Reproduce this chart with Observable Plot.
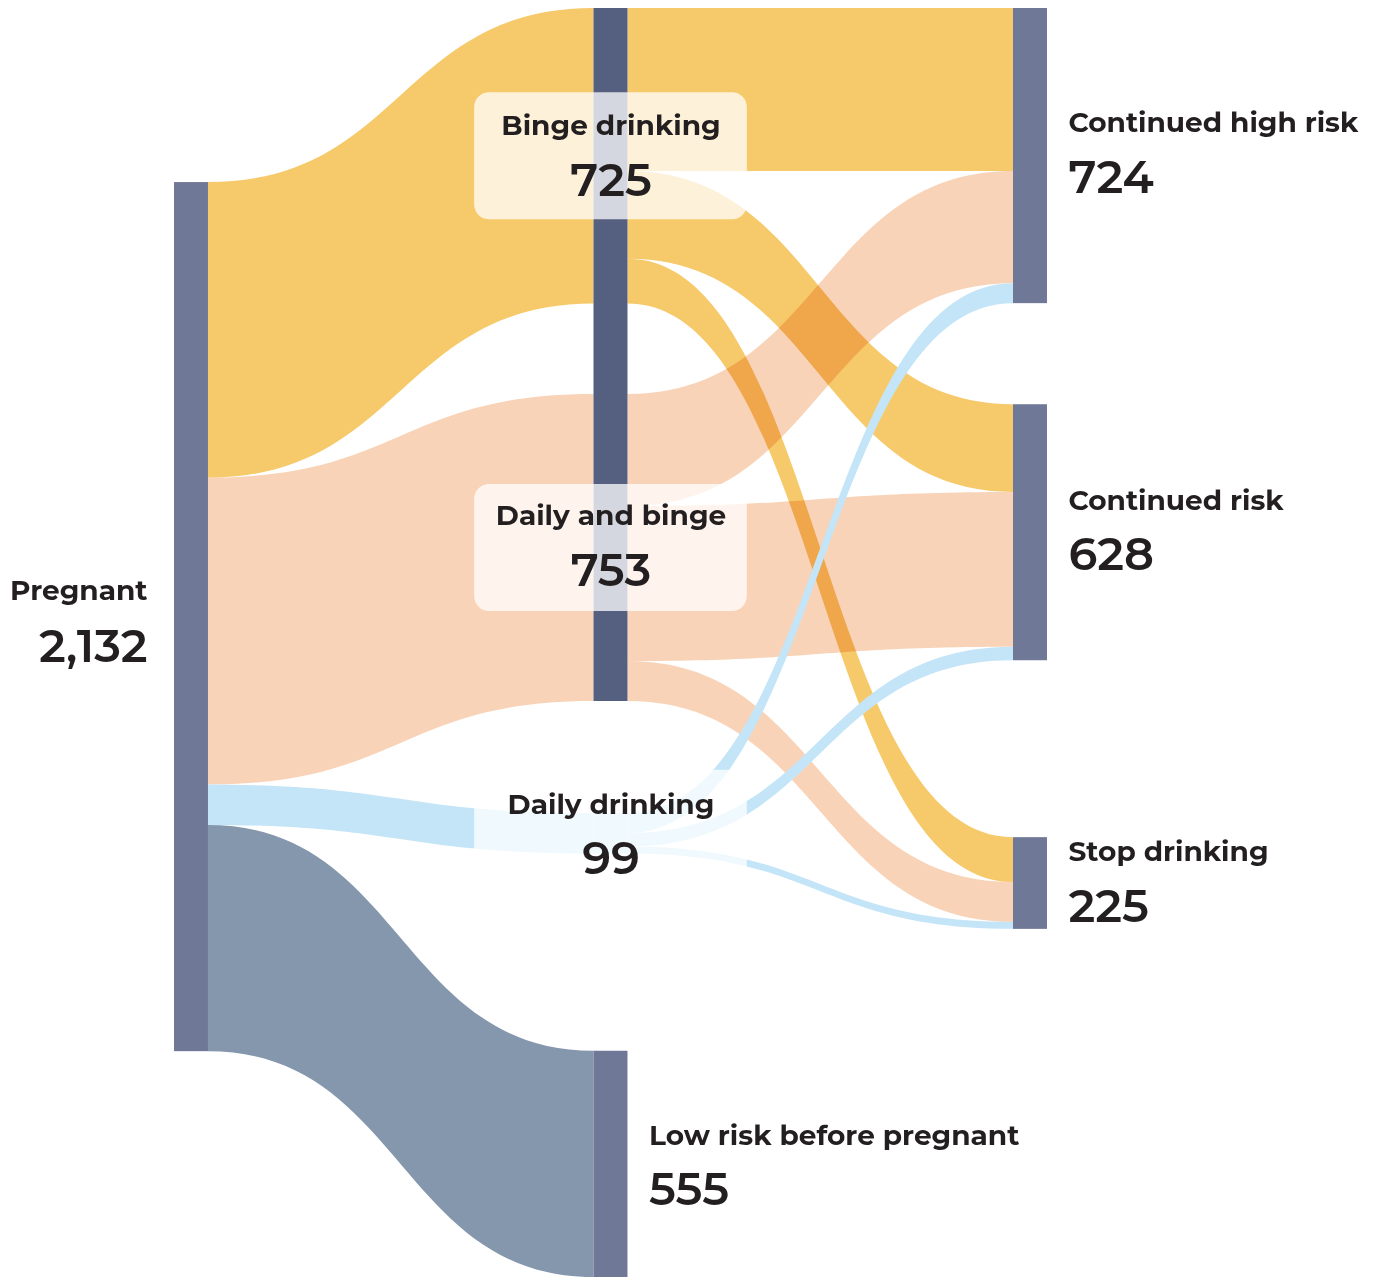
<!DOCTYPE html>
<html>
<head>
<meta charset="utf-8">
<script src="https://cdn.jsdelivr.net/npm/d3@7"></script>
<script src="https://cdn.jsdelivr.net/npm/@observablehq/plot@0.6"></script>
<style>
  html, body { margin: 0; padding: 0; background: #ffffff; }
  #chart svg { display: block; }
</style>
</head>
<body>
<div id="chart"></div>
<script>
// ---------------- DATA ----------------
const nodeNames = [
  "Pregnant",
  "Binge drinking",
  "Daily and binge",
  "Daily drinking",
  "Low risk before pregnant",
  "Continued high risk",
  "Continued risk",
  "Stop drinking"
];
const nodeColumns = [0, 1, 1, 1, 1, 2, 2, 2];

const linkSources = ["Pregnant", "Pregnant", "Pregnant", "Pregnant",
  "Binge drinking", "Binge drinking", "Binge drinking",
  "Daily and binge", "Daily and binge", "Daily and binge",
  "Daily drinking", "Daily drinking", "Daily drinking"];
const linkTargets = ["Binge drinking", "Daily and binge", "Daily drinking", "Low risk before pregnant",
  "Continued high risk", "Continued risk", "Stop drinking",
  "Continued high risk", "Continued risk", "Stop drinking",
  "Continued high risk", "Continued risk", "Stop drinking"];
const linkValues = [725, 753, 99, 555,
  400, 215, 110,
  275, 380, 98,
  49, 33, 17];

const categoryNames = ["Binge drinking", "Daily and binge", "Daily drinking", "Low risk before pregnant"];
const categoryColors = ["#f6ca6a", "#f9d3b7", "#c3e5f7", "#8597ad"];

// ---------------- LAYOUT ----------------
// gap (in value units) placed before each node in its column
const gapBefore = [427, 0, 222, 275, 484, 0, 248, 434];
// which side the label goes: "left", "center", "right"
const labelSide = ["left", "center", "center", "center", "right", "right", "right", "right"];
// vertical offsets (px) of the name and the value from the node centre
const nameDy  = [-26, -30, -32, -29, -28, -33, -32, -31];
const valueDy = [ 30,  25,  23,  25,  26,  22,  23,  24];
// node bars: groups of nodes drawn as one bar, with colour
const barGroups = [
  {nodes: ["Pregnant"], color: "#6f7896"},
  {nodes: ["Binge drinking", "Daily and binge"], color: "#555f80"},
  {nodes: ["Daily drinking"], color: "#c3e5f7"},
  {nodes: ["Low risk before pregnant"], color: "#6f7896"},
  {nodes: ["Continued high risk"], color: "#6f7896"},
  {nodes: ["Continued risk"], color: "#6f7896"},
  {nodes: ["Stop drinking"], color: "#6f7896"}
];
const nodeW = 0.081;       // in column units
const boxHalfW = 0.325;    // label box half width, column units
const boxHalfH = 156;      // label box half height, value units

const W = 1376, H = 1277;

// build nodes
const nodes = nodeNames.map((name, i) => ({name, col: nodeColumns[i], gap: gapBefore[i], side: labelSide[i],
  ndy: nameDy[i], vdy: valueDy[i], inV: 0, outV: 0}));
const byName = new Map(nodes.map(n => [n.name, n]));
const links = linkValues.map((v, i) => ({
  id: i,
  source: byName.get(linkSources[i]),
  target: byName.get(linkTargets[i]),
  value: v
}));
links.forEach(l => { l.source.outV += l.value; l.target.inV += l.value; });
nodes.forEach(n => n.value = Math.max(n.inV, n.outV));

// stack nodes in columns
d3.groups(nodes, n => n.col).forEach(([c, ns]) => {
  let y = 0;
  ns.forEach(n => { y += n.gap; n.y0 = y; y += n.value; n.y1 = y; });
});
const yMax = d3.max(nodes, n => n.y1);

// link offsets
nodes.forEach(n => {
  let so = n.y0, to = n.y0;
  links.filter(l => l.source === n).forEach(l => { l.sy0 = so; so += l.value; });
  links.filter(l => l.target === n).forEach(l => { l.ty0 = to; to += l.value; });
});
links.forEach(l => {
  l.cat = l.source.col === 0 ? l.target.name : l.source.name;
  l.color = categoryColors[categoryNames.indexOf(l.cat)];
});

// link area points
const linkPts = links.flatMap(l => [
  {id: l.id, cat: l.cat, color: l.color, x: l.source.col + nodeW, y1: l.sy0, y2: l.sy0 + l.value},
  {id: l.id, cat: l.cat, color: l.color, x: l.target.col, y1: l.ty0, y2: l.ty0 + l.value}
]);

const bars = barGroups.map(g => {
  const ns = g.nodes.map(n => byName.get(n));
  return {x1: ns[0].col, x2: ns[0].col + nodeW, y1: d3.min(ns, n => n.y0), y2: d3.max(ns, n => n.y1), color: g.color};
});

nodes.forEach(n => { n.cy = (n.y0 + n.y1) / 2; });
const midNodes = nodes.filter(n => n.side === "center");
const boxes = midNodes.map(n => ({
  x1: n.col + nodeW / 2 - boxHalfW, x2: n.col + nodeW / 2 + boxHalfW,
  y1: n.cy - boxHalfH, y2: n.cy + boxHalfH
}));

const fmt = d3.format(",");
const font = "Montserrat, Inter, 'Open Sans', sans-serif";
const textColor = "#231f20";

function labelX(n) {
  if (n.side === "left") return n.col;
  if (n.side === "right") return n.col + nodeW;
  return n.col + nodeW / 2;
}
const anchorOf = {left: "end", right: "start", center: "middle"};
const dxOf = {left: -27, right: 21, center: 0};

const labelMarks = nodes.flatMap(n => [
  Plot.text([n], {x: labelX, y: "cy", text: "name", textAnchor: anchorOf[n.side], dx: dxOf[n.side], dy: n.ndy,
    fontSize: 28, fontWeight: 700, fill: textColor, fontFamily: font}),
  Plot.text([n], {x: labelX, y: "cy", text: d => fmt(d.value), textAnchor: anchorOf[n.side], dx: dxOf[n.side], dy: n.vdy,
    fontSize: 46, fontWeight: 600, fill: textColor, fontFamily: font})
]);

const chart = Plot.plot({
  width: W,
  height: H,
  margin: 0,
  x: {domain: [0, 2], range: [174, 1013], axis: null},
  y: {domain: [0, yMax], range: [8, H], axis: null},
  color: {type: "identity"},
  marks: [
    Plot.areaY(linkPts.filter(d => d.cat !== "Daily drinking"), {x: "x", y1: "y1", y2: "y2", z: "id", fill: "color", curve: "bump-x", mixBlendMode: "multiply"}),
    Plot.areaY(linkPts.filter(d => d.cat === "Daily drinking"), {x: "x", y1: "y1", y2: "y2", z: "id", fill: "color", curve: "bump-x"}),
    Plot.rect(bars, {x1: "x1", x2: "x2", y1: "y1", y2: "y2", fill: "color"}),
    Plot.rect(boxes, {x1: "x1", x2: "x2", y1: "y1", y2: "y2", fill: "white", fillOpacity: 0.75, rx: 15}),
    ...labelMarks
  ]
});
document.getElementById("chart").appendChild(chart);
</script>
</body>
</html>
